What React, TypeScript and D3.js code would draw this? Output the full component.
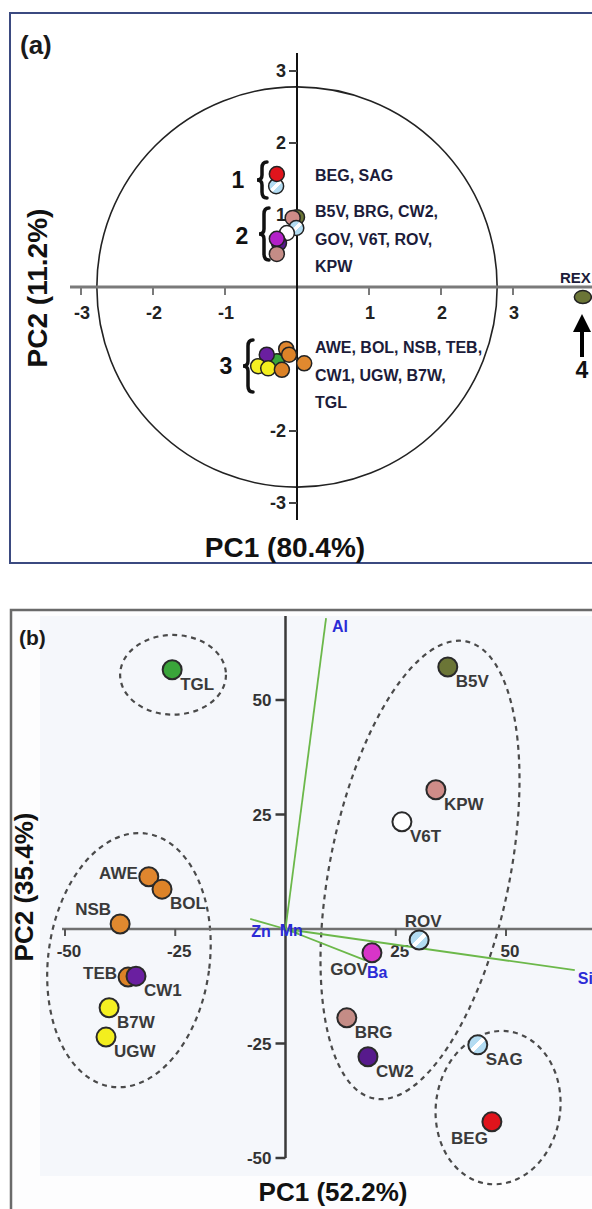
import React from "react";
import * as d3 from "d3";

const W = 592;
const H = 1209;
const FONT = "Liberation Sans, Arial, sans-serif";

// ---------- panel (a): PCA scores, all samples ----------
const aSamples = ["SAG", "BEG", "B5V", "KPW", "ROV", "V6T", "CW2", "GOV", "BRG",
  "TGL", "AWE", "BOL", "NSB", "CW1", "B7W", "UGW", "TEB", "REX"];
const aPC1 = [-0.29, -0.28, 0.0, -0.06, -0.01, -0.14, -0.25, -0.28, -0.28,
  -0.28, -0.15, -0.11, 0.1, -0.42, -0.54, -0.4, -0.21, 3.97];
const aPC2 = [1.4, 1.57, 0.97, 0.96, 0.82, 0.75, 0.61, 0.67, 0.46,
  -1.03, -0.86, -0.94, -1.06, -0.94, -1.1, -1.13, -1.15, -0.14];
const aTicks = [-3, -2, -1, 1, 2, 3];
const circleR = 2.78;
const groupText = [
  ["BEG, SAG"],
  ["B5V, BRG, CW2,", "GOV, V6T, ROV,", "KPW"],
  ["AWE, BOL, NSB, TEB,", "CW1, UGW, B7W,", "TGL"],
];
const groupNum = ["1", "2", "3"];

// ---------- panel (b): PCA without REX ----------
const bSamples = ["TGL", "B5V", "KPW", "V6T", "AWE", "BOL", "NSB", "ROV", "GOV",
  "TEB", "CW1", "B7W", "UGW", "BRG", "CW2", "SAG", "BEG"];
const bPC1 = [-25.7, 36.8, 34.1, 26.4, -31.0, -28.0, -37.5, 30.3, 19.6,
  -35.7, -33.9, -40.0, -40.7, 13.9, 18.7, 43.6, 46.8];
const bPC2 = [56.6, 57.2, 30.4, 23.4, 11.4, 8.7, 1.1, -2.4, -5.2,
  -10.5, -10.3, -17.2, -23.6, -19.4, -27.9, -25.3, -42.1];
const bTicks = [-50, -25, 25, 50];
const loadNames = ["Al", "Si", "Ba", "Zn", "Mn"];
const loadPC1 = [9.2, 65.6, 18.0, -8.0, 3.0];
const loadPC2 = [67.9, -9.0, -6.8, 2.2, -1.0];
// cluster ellipses: centre, radii (data units), tilt in degrees
const clustCx = [-25.5, -35.5, 30.5, 48.2];
const clustCy = [55.5, -6.8, 12.9, -39.0];
const clustRx = [12.0, 18.3, 20.4, 14.1];
const clustRy = [8.7, 27.9, 50.9, 16.8];
const clustRot = [0, 7.6, 11.4, 8];

const colors: Record<string, string> = {
  BEG: "#e0141c", SAG: "url(#stripe)", ROV: "url(#stripe)", B5V: "#6b7536",
  KPW: "#cf8c88", BRG: "#c48c86", V6T: "#ffffff", GOV: "#d835c8", CW2: "#571a8c",
  CW1: "#6a1fa0", TGL: "#3aa53a", AWE: "#e0862e", BOL: "#dd8328", NSB: "#e0892f",
  TEB: "#dc8226", B7W: "#f5f022", UGW: "#f3ee1e", REX: "#6b7536",
};
const colorsA: Record<string, string> = { ...colors, GOV: "#b321c8" };

// label placement code per sample in (b)
const labelSide: Record<string, string> = {
  AWE: "l", NSB: "tl", ROV: "t", GOV: "bl", TEB: "l", BEG: "bl",
};
const loadLabelOff: Record<string, [number, number]> = {
  Al: [6, 14], Si: [3, 14], Ba: [2, 18], Zn: [1, 18], Mn: [-19, 2],
};

const xA = d3.scaleLinear().domain([-3, 3]).range([81, 513]);
const yA = d3.scaleLinear().domain([-3, 3]).range([503, 71]);
const xB = d3.scaleLinear().domain([-50, 50]).range([65, 506]);
const yB = d3.scaleLinear().domain([-50, 50]).range([1158, 700]);

function brace(x: number, y0: number, y1: number, w: number) {
  const m = (y0 + y1) / 2;
  const h = w / 2;
  return `M${x + w},${y0} Q${x + h},${y0} ${x + h},${y0 + 6} L${x + h},${m - 5} Q${x + h},${m} ${x},${m} Q${x + h},${m} ${x + h},${m + 5} L${x + h},${y1 - 6} Q${x + h},${y1} ${x + w},${y1}`;
}

const braceSpan = [[162, 198], [208, 260], [340, 392]];
const braceX = [257, 259, 243];
const numX = [238, 242, 226];
const numY = [188, 244, 374];
const groupY = [181, 217, 353];

export default function App() {
  const x0a = xA(0), y0a = yA(0);
  const x0b = xB(0), y0b = yB(0);
  const tickStyle = { fontFamily: FONT, fontWeight: 700 } as const;

  return (
    <div style={{ position: "absolute", left: 0, top: 0 }}>
      <svg width={W} height={H} viewBox={`0 0 ${W} ${H}`} style={{ display: "block", background: "#fff" }}>
        <defs>
          <linearGradient id="stripe" x1="0" y1="0" x2="1" y2="1">
            <stop offset="0" stopColor="#b3dcf2" />
            <stop offset="0.42" stopColor="#b3dcf2" />
            <stop offset="0.42" stopColor="#ffffff" />
            <stop offset="0.58" stopColor="#ffffff" />
            <stop offset="0.58" stopColor="#b3dcf2" />
            <stop offset="1" stopColor="#b3dcf2" />
          </linearGradient>
          <marker id="arrow" viewBox="0 0 10 10" refX="5" refY="5" markerWidth="4.5" markerHeight="4.5" orient="auto">
            <path d="M0,0 L10,5 L0,10 z" fill="#000" />
          </marker>
        </defs>

        {/* ---------------- panel (a) ---------------- */}
        <rect x={10} y={13} width={620} height={550} fill="#fff" stroke="#3b4a80" strokeWidth={2} />
        <text x={20} y={54} fontSize={26} {...tickStyle} fill="#1a1a1a">(a)</text>

        <ellipse cx={x0a} cy={y0a} rx={xA(circleR) - x0a} ry={y0a - yA(circleR)}
          fill="none" stroke="#222" strokeWidth={1.6} />

        {/* axes */}
        <line x1={70} x2={W} y1={y0a} y2={y0a} stroke="#7a7a7a" strokeWidth={3} />
        <line x1={x0a} x2={x0a} y1={53} y2={520} stroke="#111" strokeWidth={2} />
        {aTicks.map((t) => (
          <g key={"ax" + t}>
            <line x1={xA(t)} x2={xA(t)} y1={y0a + 1} y2={y0a + 8} stroke="#7a7a7a" strokeWidth={2} />
            <text x={xA(t) + 1} y={y0a + 32} textAnchor="middle" fontSize={18} {...tickStyle} fill="#222">{t}</text>
          </g>
        ))}
        {aTicks.map((t) => (
          <g key={"ay" + t}>
            <line x1={x0a - 8} x2={x0a} y1={yA(t)} y2={yA(t)} stroke="#444" strokeWidth={2} />
            <text x={x0a - 11} y={yA(t)} dy="0.36em" textAnchor="end" fontSize={18} {...tickStyle} fill="#222">{t}</text>
          </g>
        ))}

        {/* group labels */}
        {groupText.map((lines, gi) => (
          <g key={"g" + gi}>
            {lines.map((l, li) => (
              <text key={li} x={315} y={groupY[gi] + li * 27.5} fontSize={16} {...tickStyle} fill="#1c1c3a">{l}</text>
            ))}
            <path d={brace(braceX[gi], braceSpan[gi][0], braceSpan[gi][1], 10)} fill="none" stroke="#111" strokeWidth={3.5} strokeLinecap="round" />
            <text x={numX[gi]} y={numY[gi]} textAnchor="middle" fontSize={23} {...tickStyle} fill="#111">{groupNum[gi]}</text>
          </g>
        ))}

        {/* points */}
        {aSamples.map((s, i) =>
          s === "REX" ? (
            <ellipse key={s} cx={xA(aPC1[i])} cy={yA(aPC2[i])} rx={8.5} ry={6.5} fill={colorsA[s]} stroke="#222" strokeWidth={1.5} />
          ) : (
            <circle key={s} cx={xA(aPC1[i])} cy={yA(aPC2[i])} r={7.5} fill={colorsA[s]} stroke="#222" strokeWidth={1.5} />
          )
        )}
        <text x={560} y={283} fontSize={15} {...tickStyle} fill="#1c1c3a">REX</text>
        <line x1={582} x2={582} y1={357} y2={323} stroke="#000" strokeWidth={4} markerEnd="url(#arrow)" />
        <text x={582} y={378} textAnchor="middle" fontSize={23} {...tickStyle} fill="#111">4</text>

        {/* axis titles */}
        <text x={285} y={557} textAnchor="middle" fontSize={28} {...tickStyle} fill="#111">PC1 (80.4%)</text>
        <text transform="translate(47,288) rotate(-90)" textAnchor="middle" fontSize={28} {...tickStyle} fill="#111">PC2 (11.2%)</text>

        {/* ---------------- panel (b) ---------------- */}
        <rect x={11} y={610} width={620} height={640} fill="#fdfdfe" stroke="#6a6a6a" strokeWidth={2.5} />
        <rect x={40} y={616} width={560} height={560} fill="#f5f7fb" />
        <text x={19} y={645} fontSize={21} {...tickStyle} fill="#1a1a1a">(b)</text>

        {/* cluster ellipses */}
        {clustCx.map((cx, i) => {
          const px = xB(cx), py = yB(clustCy[i]);
          return (
            <ellipse key={"e" + i} cx={px} cy={py} rx={xB(clustRx[i]) - x0b} ry={y0b - yB(clustRy[i])}
              transform={`rotate(${clustRot[i]} ${px} ${py})`}
              fill="none" stroke="#4a4a4a" strokeWidth={2.2} strokeDasharray="5 4.5" />
          );
        })}

        {/* axes */}
        <line x1={62} x2={W} y1={y0b} y2={y0b} stroke="#707070" strokeWidth={2.5} />
        <line x1={x0b} x2={x0b} y1={616} y2={1158} stroke="#3a3a3a" strokeWidth={2.5} />
        {bTicks.map((t) => (
          <g key={"bx" + t}>
            <line x1={xB(t)} x2={xB(t)} y1={y0b} y2={y0b + 7} stroke="#555" strokeWidth={2} />
            <text x={xB(t) + 4} y={y0b + 28} textAnchor="middle" fontSize={17} {...tickStyle} fill="#333">{t}</text>
          </g>
        ))}
        {bTicks.map((t) => (
          <g key={"by" + t}>
            <line x1={x0b - 10} x2={x0b} y1={yB(t)} y2={yB(t)} stroke="#3a3a3a" strokeWidth={2.5} />
            <text x={x0b - 14} y={yB(t)} dy="0.36em" textAnchor="end" fontSize={17} {...tickStyle} fill="#333">{t}</text>
          </g>
        ))}

        {/* loadings */}
        {loadNames.map((n, i) => {
          const ex = xB(loadPC1[i]), ey = yB(loadPC2[i]);
          const [dx, dy] = loadLabelOff[n];
          return (
            <g key={n}>
              <line x1={x0b} y1={y0b} x2={ex} y2={ey} stroke="#6cb84a" strokeWidth={1.8} />
              <text x={ex + dx} y={ey + dy} fontSize={16} {...tickStyle} fill="#2b2bd6">{n}</text>
            </g>
          );
        })}

        {/* sample points + labels */}
        {bSamples.map((s, i) => {
          const px = xB(bPC1[i]), py = yB(bPC2[i]);
          const side = labelSide[s] || "br";
          let lx = px + 8, ly = py + 20, anchor = "start";
          if (side === "l") { lx = px - 11; ly = py + 2; anchor = "end"; }
          if (side === "tl") { lx = px - 9; ly = py - 9; anchor = "end"; }
          if (side === "t") { lx = px + 4; ly = py - 13; anchor = "middle"; }
          if (side === "bl") { lx = px - 4; ly = py + 22; anchor = "end"; }
          return (
            <g key={s}>
              <circle cx={px} cy={py} r={9.5} fill={colors[s]} stroke="#2a2a2a" strokeWidth={2} />
              <text x={lx} y={ly} textAnchor={anchor} fontSize={17} {...tickStyle} fill="#3a3a3a">{s}</text>
            </g>
          );
        })}

        {/* axis titles */}
        <text x={333} y={1201} textAnchor="middle" fontSize={26} {...tickStyle} fill="#111">PC1 (52.2%)</text>
        <text transform="translate(33,887) rotate(-90)" textAnchor="middle" fontSize={26} {...tickStyle} fill="#111">PC2 (35.4%)</text>
      </svg>
    </div>
  );
}
